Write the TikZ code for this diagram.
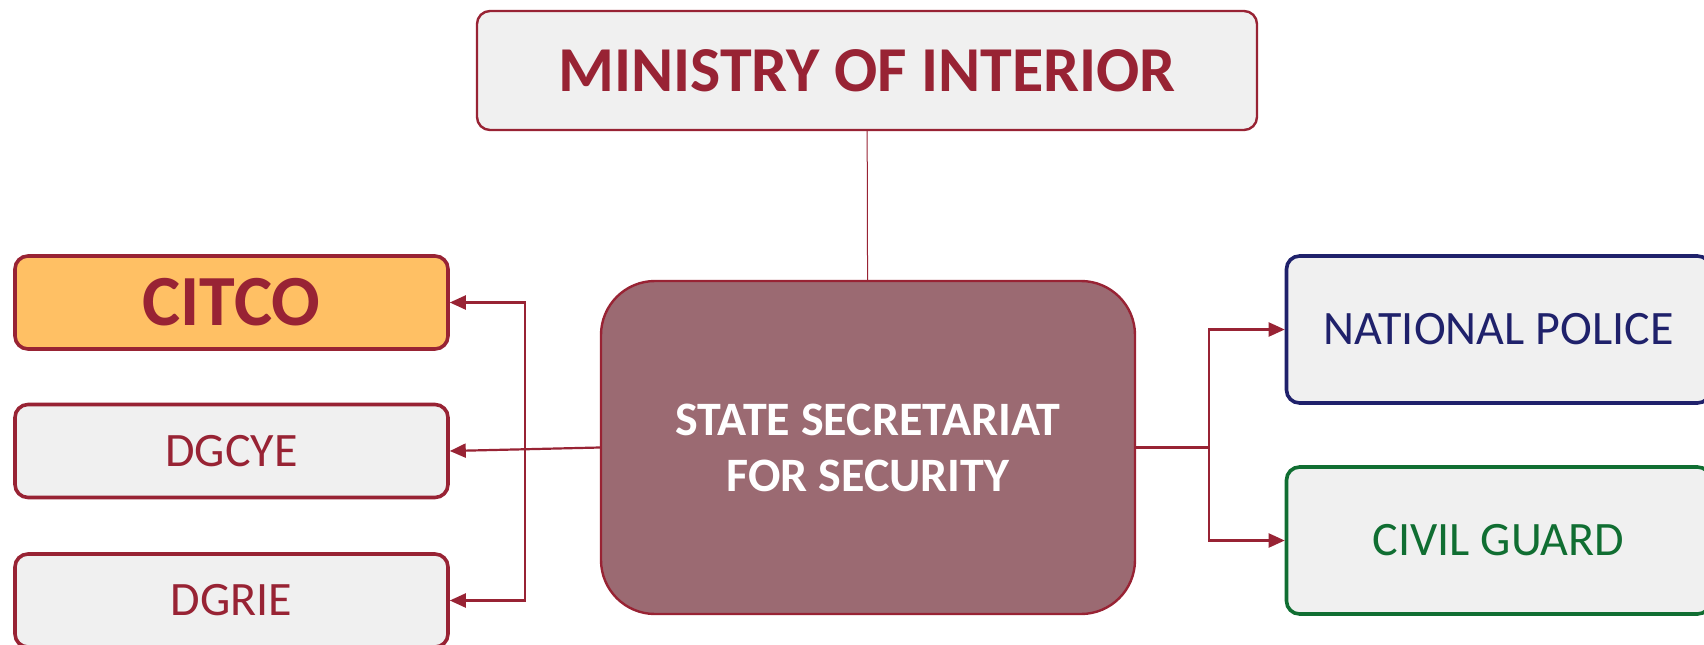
\documentclass[tikz,border=0pt]{standalone}
\usepackage{fontspec}
\setmainfont{Carlito}
\usetikzlibrary{arrows.meta}
\definecolor{wine}{RGB}{152,35,52}
\definecolor{paleg}{RGB}{240,240,240}
\definecolor{citcoor}{RGB}{255,192,100}
\definecolor{mauve}{RGB}{155,106,114}
\definecolor{policeblue}{RGB}{31,33,107}
\definecolor{guardgreen}{RGB}{16,110,50}

\begin{document}
\begin{tikzpicture}[x=0.5pt,y=-0.5pt,
  every node/.style = {shape=rectangle, rounded corners=6.5pt, draw=wine,
    line width=1.8pt, fill=paleg, align=center, inner sep=0pt},
  unit/.style = {minimum width=216.5pt, minimum height=46.5pt, text=wine,
    font=\fontsize{24}{29}\selectfont},
  force/.style = {minimum width=212pt, minimum height=73.5pt,
    font=\fontsize{24}{29}\selectfont},
  link/.style = {draw=wine, line width=1.1pt, -{Triangle[length=8pt,width=7pt]}}]
  \useasboundingbox[fill=white] (0,0) rectangle (1704,644);
  \node[minimum width=390pt, minimum height=59.5pt, line width=1.2pt, text=wine,
    font=\fontsize{32}{38}\selectfont\bfseries] (moi) at (867,70.5) {MINISTRY OF INTERIOR};
  \node[minimum width=267pt, minimum height=166.5pt, rounded corners=27pt,
    fill=mauve, line width=1.2pt, text=white, font=\fontsize{24}{28}\selectfont\bfseries]
    (sses) at (868,447.5) {STATE SECRETARIAT\\FOR SECURITY};
  % left side
  \node[unit, fill=citcoor, font=\fontsize{36}{42}\selectfont\bfseries] (citco) at (231.5,302.5) {CITCO};
  \node[unit] (dgcye) at (231.5,451) {DGCYE};
  \node[unit] (dgrie) at (231.5,600.5) {DGRIE};
  % right side
  \node[force, draw=policeblue, text=policeblue] (police) at (1498.5,329.5) {NATIONAL POLICE};
  \node[force, draw=guardgreen, text=guardgreen] (guard) at (1498.5,540.5) {CIVIL GUARD};
  \coordinate (lbus) at (525,447.5);
  \coordinate (rbus) at (1209,447.5);
  \draw[wine, line width=0.5pt] (moi) -- (sses);
  \draw[link] (sses.west) -- (dgcye.east);
  \draw[link] (lbus) |- (citco.east);
  \draw[link] (lbus) |- (dgrie.east);
  \draw[wine, line width=1.1pt] (sses.east) -- (rbus);
  \draw[link] (rbus) |- (police.west);
  \draw[link] (rbus) |- (guard.west);
\end{tikzpicture}
\end{document}
